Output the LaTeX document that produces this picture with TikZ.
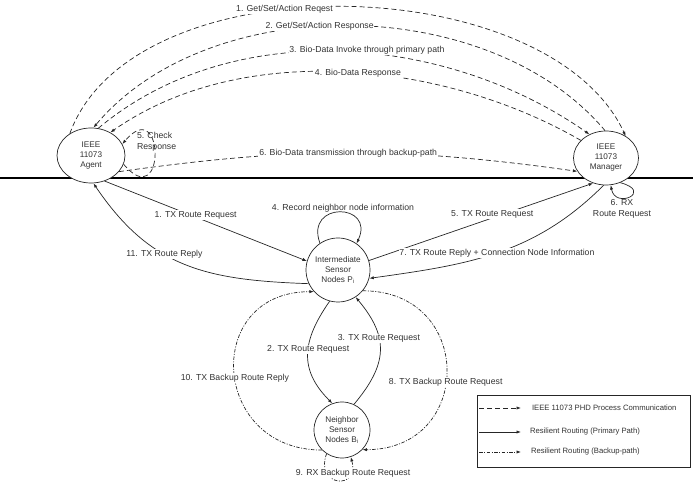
\documentclass[tikz,border=0pt]{standalone}
\usepackage{fontspec}
\setmainfont{Liberation Sans}
\usetikzlibrary{shapes.geometric,arrows.meta}

\begin{document}
\begin{tikzpicture}[x=1pt, y=1pt,
    pdash/.style={draw=black!85, line width=0.7pt, dash pattern=on 5pt off 3pt, -{Latex[length=4.5pt,width=3.2pt]}},
    prim/.style={draw=black!85, line width=0.7pt, -{Latex[length=4.5pt,width=3.2pt]}},
    bkup/.style={draw=black!85, line width=0.7pt, dash pattern=on 3.5pt off 1.5pt on 1pt off 1.5pt, -{Latex[length=4.5pt,width=3.2pt]}},
    lbl/.style={font=\fontsize{8.7pt}{10.5pt}\selectfont, text=black!80, fill=white, inner sep=0.8pt},
    lgd/.style={font=\fontsize{7.7pt}{9pt}\selectfont, text=black!80, anchor=west, inner sep=0.8pt},
    ent/.style={draw=black!85, fill=white, line width=0.7pt, align=center, inner sep=0pt, font=\fontsize{8.2pt}{10pt}\selectfont, text=black!80}]
    \useasboundingbox (0,0) rectangle (698,487);
    \coordinate (W1) at (0,309);
    \coordinate (W2) at (693,309);
    \draw[line width=2.2pt] (W1) -- (W2);
    \node[ent, ellipse, minimum width=68pt, minimum height=55pt] (Ag) at (91,331.5) {IEEE\\11073\\Agent};
    \node[ent, ellipse, minimum width=65pt, minimum height=54pt] (Mg) at (606,329) {IEEE\\11073\\Manager};
    \node[ent, circle, minimum size=64pt] (Pi) at (338,217) {Intermediate\\Sensor\\Nodes P\textsubscript{i}};
    \node[ent, circle, minimum size=56pt] (Bi) at (342,57) {Neighbor\\Sensor\\Nodes B\textsubscript{i}};
    \draw[pdash] (Ag.134) .. controls +(70:185) and +(115:185) .. (Mg.48) node[lbl, pos=.42] {1. Get/Set/Action Reqest};
    \draw[pdash] (Mg.92) .. controls +(130:180) and +(50:180) .. (Ag.85) node[lbl, pos=.55] {2. Get/Set/Action Response};
    \draw[pdash] (Ag.75) .. controls +(40:175) and +(145:175) .. (Mg.125) node[lbl, pos=.55, yshift=3pt] {3. Bio-Data Invoke through primary path};
    \draw[pdash] (Mg.145) .. controls +(150:160) and +(35:160) .. (Ag.50) node[lbl, pos=.47] {4. Bio-Data Response};
    \draw[pdash] (Ag.-15) .. controls +(-50:66) and +(50:66) .. (Ag.20);
    \node[lbl, fill=none, align=left, anchor=west] (CR) at (136,345) {5. Check\\Response};
    \draw[pdash] (Ag.-30) to[out=8, in=172] node[lbl] {6. Bio-Data transmission through backup-path} (Mg.205);
    \draw[prim] (Ag.-62) -- (Pi.164) node[lbl, pos=.45, yshift=2pt] {1. TX Route Request};
    \draw[prim] (Pi.205) to[out=178, in=-56, looseness=1.1] node[lbl, pos=.6] {11. TX Route Reply} (Ag.-85);
    \draw[prim] (Pi.124) .. controls +(110:45) and +(65:45) .. (Pi.55);
    \node[lbl, fill=none] (RN) at (343,279) {4. Record neighbor node information};
    \draw[prim] (Pi.17) -- (Mg.243) node[lbl, pos=.55, yshift=4pt] {5. TX Route Request};
    \draw[prim] (Mg.300) .. controls +(-15:35) and +(-80:25) .. (Mg.280);
    \node[lbl, fill=none, align=center] (RX) at (622,278) {6. RX\\Route Request};
    \draw[prim] (Mg.265) to[out=225, in=8] node[lbl, pos=.5] {7. TX Route Reply + Connection Node Information} (Pi.-15);
    \draw[prim] (Pi.255) to[out=235, in=135, looseness=1.2] node[lbl, pos=.45] {2. TX Route Request} (Bi.110);
    \draw[prim] (Bi.65) to[out=50, in=310, looseness=1.25] node[lbl, pos=.62] {3. TX Route Request} (Pi.-57);
    \draw[bkup] (Pi.-40) to[out=0, in=0, looseness=1.8] node[lbl, pos=.55] {8. TX Backup Route Request} (Bi.-44);
    \draw[bkup] (Bi.237) .. controls +(250:35) and +(285:35) .. (Bi.288);
    \node[lbl] (RB) at (353,14) {9. RX Backup Route Request};
    \draw[bkup] (Bi.225) to[out=180, in=180, looseness=1.8] node[lbl, pos=.47] {10. TX Backup Route Reply} (Pi.222);
    \node[draw=black!85, line width=0.8pt, minimum width=213pt, minimum height=72pt] (Lg) at (583.5,56) {};
    \coordinate (L1a) at (479,79);
    \coordinate (L1b) at (521,79);
    \coordinate (L2a) at (479,55);
    \coordinate (L2b) at (521,55);
    \coordinate (L3a) at (479,35);
    \coordinate (L3b) at (521,35);
    \draw[pdash] (L1a) -- (L1b);
    \draw[prim] (L2a) -- (L2b);
    \draw[bkup] (L3a) -- (L3b);
    \node[lgd] (T1) at (531,79) {IEEE 11073 PHD Process Communication};
    \node[lgd] (T2) at (529,55) {Resilient Routing (Primary Path)};
    \node[lgd] (T3) at (530,35) {Resilient Routing (Backup-path)};
\end{tikzpicture}
\end{document}
